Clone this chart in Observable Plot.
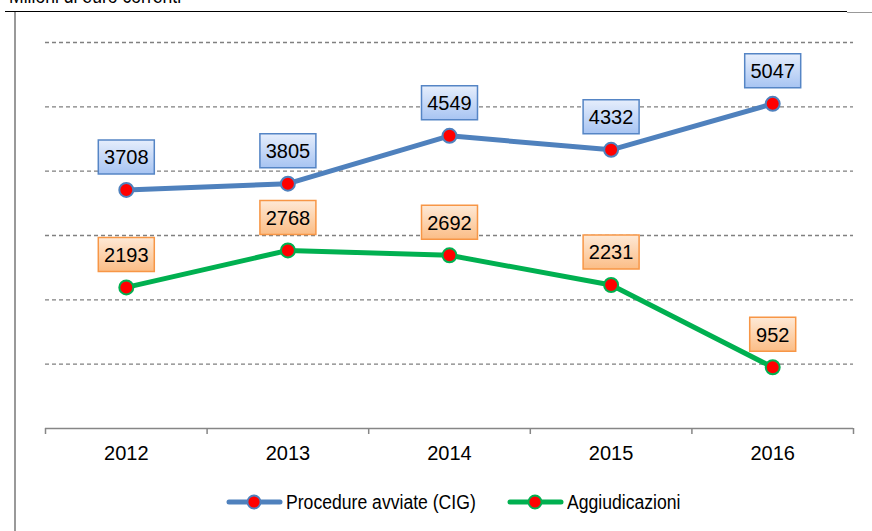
<!DOCTYPE html>
<html>
<head>
<meta charset="utf-8">
<script src="https://cdn.jsdelivr.net/npm/d3@7"></script>
<script src="https://cdn.jsdelivr.net/npm/@observablehq/plot@0.6"></script>
<style>
  html, body { margin: 0; padding: 0; background: #fff; }
  body { width: 872px; height: 531px; position: relative; overflow: hidden; font-family: "Liberation Sans", Arial, sans-serif; }
  #title { position: absolute; left: 9px; top: -15px; font-size: 20px; color: #000; transform: scaleX(0.88); transform-origin: left center; white-space: nowrap; }
  #topline { position: absolute; left: 5px; top: 11px; width: 842px; height: 0; border-top: 1.6px solid #000; }
  #topline2 { position: absolute; left: 847px; top: 12px; width: 25px; height: 0; border-top: 1px solid #999; }
  #leftline { position: absolute; left: 14px; top: 12px; width: 0; height: 530px; border-left: 2px solid #999; }
  #chart { position: absolute; left: 0; top: 0; }
  #legend { position: absolute; top: 490px; left: 0; width: 872px; height: 24px; }
  .item { position: absolute; top: 0; display: flex; align-items: center; height: 24px; }
  .item span { font-size: 20px; transform: scaleX(0.88); transform-origin: left center; white-space: nowrap; margin-left: 3px; }
</style>
</head>
<body>
<div id="title">Milioni di euro correnti</div>
<div id="chart"></div>
<div id="topline"></div>
<div id="topline2"></div>
<div id="leftline"></div>
<div id="legend"></div>
<script>
// ---- data ----
const years = [2012, 2013, 2014, 2015, 2016];
const procedure = [3708, 3805, 4549, 4332, 5047];
const aggiudicazioni = [2193, 2768, 2692, 2231, 952];
const gridTicks = [1000, 2000, 3000, 4000, 5000, 6000];
const seriesNames = ["Procedure avviate (CIG)", "Aggiudicazioni"];
const seriesColors = ["#4f81bd", "#00b050"];
const boxFills = ["url(#gBlue)", "url(#gOrange)"];
const boxStrokes = ["#5585c5", "#f79646"];

const boundaries = [...years.map(y => y - 0.5), years[years.length - 1] + 0.5];

const rows = [];
years.forEach((yr, i) => {
  rows.push({year: yr, value: procedure[i], s: 0});
  rows.push({year: yr, value: aggiudicazioni[i], s: 1});
});

function boxSymbol(w) {
  return {draw(ctx) { ctx.rect(-w / 2, -50, w, 34); }};
}

const boxMarks = [];
[0, 1].forEach(s => {
  [3, 4].forEach(len => {
    const sub = rows.filter(d => d.s === s && String(d.value).length === len);
    if (sub.length) boxMarks.push(Plot.dot(sub, {
      x: "year", y: "value", symbol: boxSymbol(len === 4 ? 56 : 46),
      fill: boxFills[s], stroke: boxStrokes[s], strokeWidth: 1.5, ariaLabel: "box"
    }));
  });
});

const plot = Plot.plot({
  width: 872,
  height: 470,
  marginTop: 42,
  marginBottom: 42,
  marginLeft: 45,
  marginRight: 19,
  style: {fontFamily: "'Liberation Sans', Arial, sans-serif", background: "transparent", overflow: "visible"},
  x: {type: "linear", domain: [boundaries[0], boundaries[boundaries.length - 1]], label: null},
  y: {domain: [0, 6000], axis: null},
  marks: [
    Plot.gridY(gridTicks, {stroke: "#808080", strokeOpacity: 1, strokeDasharray: "4,3", strokeWidth: 1.3}),
    Plot.ruleY([0], {stroke: "#868686", strokeWidth: 1.5}),
    Plot.axisX(boundaries, {tickSize: 6, stroke: "#868686", strokeWidth: 1.5, tickFormat: () => " ", label: null}),
    Plot.text(years, {x: d => d, frameAnchor: "bottom", dy: 31, text: d => String(d), fontSize: 20, fill: "#000", ariaLabel: "ylabels"}),
    ...[0, 1].map(s => Plot.line(rows.filter(d => d.s === s), {x: "year", y: "value", stroke: seriesColors[s], strokeWidth: 5})),
    ...boxMarks,
    Plot.text(rows, {x: "year", y: "value", text: d => String(d.value), dy: -32, fontSize: 20, fill: "#000", ariaLabel: "vlabels"}),
    ...[0, 1].map(s => Plot.dot(rows.filter(d => d.s === s), {x: "year", y: "value", r: 7, fill: "#ff0000", stroke: seriesColors[s], strokeWidth: 2}))
  ]
});

const svg = d3.select(plot);
svg.insert("defs", ":first-child").html(`
  <linearGradient id="gBlue" x1="0" y1="0" x2="0" y2="1">
    <stop offset="0" stop-color="#e6eefc"/>
    <stop offset="1" stop-color="#a7c4f2"/>
  </linearGradient>
  <linearGradient id="gOrange" x1="0" y1="0" x2="0" y2="1">
    <stop offset="0" stop-color="#fee9d6"/>
    <stop offset="1" stop-color="#fbbd86"/>
  </linearGradient>
  <filter id="shadow" x="-20%" y="-20%" width="150%" height="160%">
    <feDropShadow dx="2" dy="2.5" stdDeviation="1.5" flood-color="#000" flood-opacity="0.3"/>
  </filter>`);
svg.selectAll('g[aria-label="box"]').attr("filter", "url(#shadow)");
svg.selectAll('g[aria-label="vlabels"] text, g[aria-label="ylabels"] text').each(function() {
  const t = this.getAttribute("transform");
  if (t) this.setAttribute("transform", t + " scale(0.88,1)");
});
document.getElementById("chart").appendChild(plot);

// legend
const legend = document.getElementById("legend");
const lefts = [226, 507];
seriesNames.forEach((name, s) => {
  const div = document.createElement("div");
  div.className = "item";
  div.style.left = lefts[s] + "px";
  div.innerHTML = `<svg width="57" height="24"><line x1="3" x2="54" y1="12" y2="12" stroke="${seriesColors[s]}" stroke-width="5" stroke-linecap="round"/><circle cx="28" cy="12" r="6.5" fill="#ff0000" stroke="${seriesColors[s]}" stroke-width="1.8"/></svg><span>${name}</span>`;
  legend.appendChild(div);
});
</script>
</body>
</html>
